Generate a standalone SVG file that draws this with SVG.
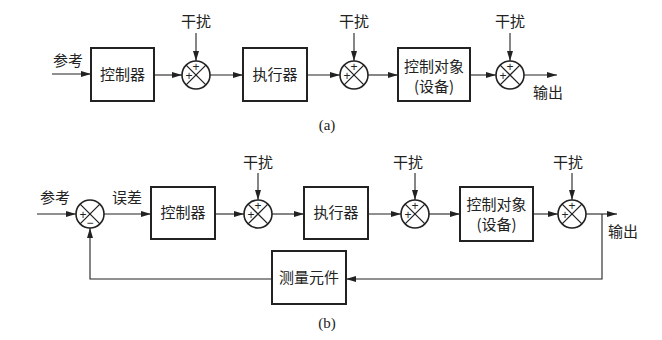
<svg xmlns="http://www.w3.org/2000/svg" width="662" height="340" viewBox="0 0 662 340">
<defs>
<marker id="ah" viewBox="0 0 10 6" refX="10" refY="3" markerWidth="10" markerHeight="6" markerUnits="userSpaceOnUse" orient="auto">
<path d="M0,0 L10,3 L0,6 Z" fill="#222"/>
</marker>
<g id="sj">
<circle cx="0" cy="0" r="14" fill="#fff" stroke="#222" stroke-width="1.6"/>
<path d="M-9.9,-9.9 L9.9,9.9 M9.9,-9.9 L-9.9,9.9" stroke="#222" stroke-width="1.3"/>
</g>
</defs>
<style>
text{font-family:"Noto Sans CJK SC","Noto Sans",sans-serif;font-size:15px;fill:#222}
.box{fill:#fff;stroke:#222;stroke-width:2}
.ln{fill:none;stroke:#222;stroke-width:1.1}
.s{font-size:12px;font-family:"Liberation Sans",sans-serif}
.lbl{font-family:"Liberation Serif",serif;font-size:15px}
</style>
<rect width="662" height="340" fill="#fff"/>
<g id="connectors">
<!-- (a) -->
<path class="ln" d="M52,74 H91" marker-end="url(#ah)"/>
<path class="ln" d="M154,75 H182" marker-end="url(#ah)"/>
<path class="ln" d="M196,33 V61" marker-end="url(#ah)"/>
<path class="ln" d="M210,75 H243" marker-end="url(#ah)"/>
<path class="ln" d="M307,75 H340" marker-end="url(#ah)"/>
<path class="ln" d="M354,33 V61" marker-end="url(#ah)"/>
<path class="ln" d="M368,75 H398" marker-end="url(#ah)"/>
<path class="ln" d="M470,75 H496" marker-end="url(#ah)"/>
<path class="ln" d="M510,33 V61" marker-end="url(#ah)"/>
<path class="ln" d="M524,75 H557" marker-end="url(#ah)"/>
<!-- (b) -->
<path class="ln" d="M37,214 H76" marker-end="url(#ah)"/>
<path class="ln" d="M104,214 H151" marker-end="url(#ah)"/>
<path class="ln" d="M215,214 H244" marker-end="url(#ah)"/>
<path class="ln" d="M258,173 V200" marker-end="url(#ah)"/>
<path class="ln" d="M272,214 H304" marker-end="url(#ah)"/>
<path class="ln" d="M368,214 H401" marker-end="url(#ah)"/>
<path class="ln" d="M415,173 V200" marker-end="url(#ah)"/>
<path class="ln" d="M429,214 H460" marker-end="url(#ah)"/>
<path class="ln" d="M533,214 H558" marker-end="url(#ah)"/>
<path class="ln" d="M572,173 V200" marker-end="url(#ah)"/>
<path class="ln" d="M586,214 H617" marker-end="url(#ah)"/>
<path class="ln" d="M602,214 V279 H346" marker-end="url(#ah)"/>
<path class="ln" d="M272,279 H90 V228" marker-end="url(#ah)"/>
</g>
<!-- (a) nodes -->
<g id="a-ref"><text x="53" y="66">参考</text></g>
<g id="a-ctrl"><rect class="box" x="91" y="48" width="63" height="53"/><text x="122.5" y="80" text-anchor="middle">控制器</text></g>
<g id="a-sum1"><use href="#sj" x="196" y="75"/><text class="s" x="196" y="71" text-anchor="middle">+</text><text class="s" x="189" y="80" text-anchor="middle">+</text></g>
<g id="a-d1"><text x="196" y="27" text-anchor="middle">干扰</text></g>
<g id="a-act"><rect class="box" x="243" y="48" width="64" height="53"/><text x="275" y="80" text-anchor="middle">执行器</text></g>
<g id="a-sum2"><use href="#sj" x="354" y="75"/><text class="s" x="354" y="71" text-anchor="middle">+</text><text class="s" x="347" y="80" text-anchor="middle">+</text></g>
<g id="a-d2"><text x="354" y="27" text-anchor="middle">干扰</text></g>
<g id="a-plant"><rect class="box" x="398" y="48" width="72" height="53"/><text x="434" y="72" text-anchor="middle">控制对象</text><text x="434" y="92" text-anchor="middle">(设备)</text></g>
<g id="a-sum3"><use href="#sj" x="510" y="75"/><text class="s" x="510" y="71" text-anchor="middle">+</text><text class="s" x="503" y="80" text-anchor="middle">+</text></g>
<g id="a-d3"><text x="510" y="27" text-anchor="middle">干扰</text></g>
<g id="a-out"><text x="533" y="98">输出</text></g>
<g id="a-label"><text class="lbl" x="327" y="130" text-anchor="middle">(a)</text></g>
<!-- (b) nodes -->
<g id="b-ref"><text x="40" y="203">参考</text></g>
<g id="b-sum0"><use href="#sj" x="90" y="214"/><text class="s" x="83" y="219" text-anchor="middle">+</text><text class="s" x="90" y="227" text-anchor="middle">−</text></g>
<g id="b-err"><text x="112" y="203">误差</text></g>
<g id="b-ctrl"><rect class="box" x="151" y="187" width="64" height="52"/><text x="183" y="218" text-anchor="middle">控制器</text></g>
<g id="b-sum1"><use href="#sj" x="258" y="214"/><text class="s" x="258" y="210" text-anchor="middle">+</text><text class="s" x="251" y="219" text-anchor="middle">+</text></g>
<g id="b-d1"><text x="258" y="168" text-anchor="middle">干扰</text></g>
<g id="b-act"><rect class="box" x="304" y="187" width="64" height="52"/><text x="336" y="218" text-anchor="middle">执行器</text></g>
<g id="b-sum2"><use href="#sj" x="415" y="214"/><text class="s" x="415" y="210" text-anchor="middle">+</text><text class="s" x="408" y="219" text-anchor="middle">+</text></g>
<g id="b-d2"><text x="408" y="168" text-anchor="middle">干扰</text></g>
<g id="b-plant"><rect class="box" x="460" y="187" width="73" height="54"/><text x="496.5" y="210" text-anchor="middle">控制对象</text><text x="496.5" y="230" text-anchor="middle">(设备)</text></g>
<g id="b-sum3"><use href="#sj" x="572" y="214"/><text class="s" x="572" y="210" text-anchor="middle">+</text><text class="s" x="565" y="219" text-anchor="middle">+</text></g>
<g id="b-d3"><text x="568" y="168" text-anchor="middle">干扰</text></g>
<g id="b-out"><text x="608" y="237">输出</text></g>
<g id="b-meas"><rect class="box" x="272" y="251" width="74" height="53"/><text x="309" y="283" text-anchor="middle">测量元件</text></g>
<g id="b-label"><text class="lbl" x="327" y="328" text-anchor="middle">(b)</text></g>
</svg>
